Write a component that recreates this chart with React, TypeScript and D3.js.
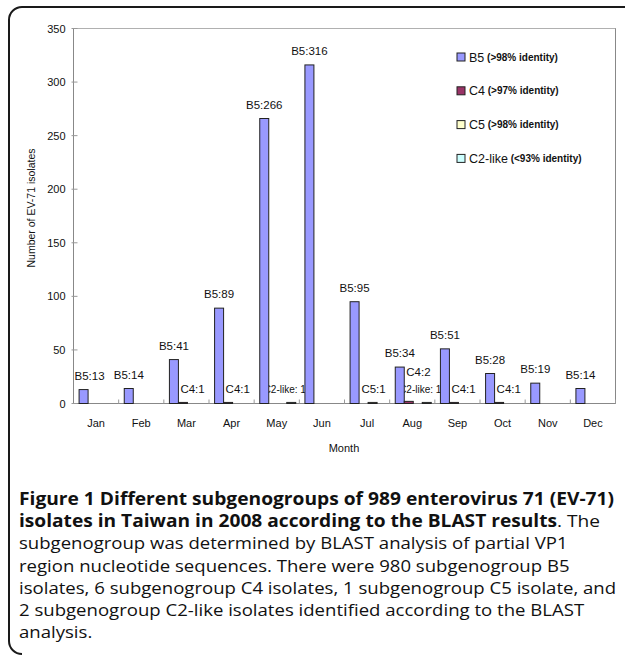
import * as d3 from "d3";

const months = ["Jan", "Feb", "Mar", "Apr", "May", "Jun", "Jul", "Aug", "Sep", "Oct", "Nov", "Dec"];
const seriesNames = ["B5", "C4", "C5", "C2-like"];
const seriesColors = ["#9999ff", "#993366", "#ffffcc", "#ccffff"];
const legendNotes = ["(>98% identity)", "(>97% identity)", "(>98% identity)", "(<93% identity)"];

const b5 = [13, 14, 41, 89, 266, 316, 95, 34, 51, 28, 19, 14];
const c4 = [0, 0, 1, 1, 0, 0, 0, 2, 1, 1, 0, 0];
const c5 = [0, 0, 0, 0, 0, 0, 1, 0, 0, 0, 0, 0];
const c2like = [0, 0, 0, 0, 1, 0, 0, 1, 0, 0, 0, 0];
const seriesValues = [b5, c4, c5, c2like];

const yTicks = [0, 50, 100, 150, 200, 250, 300, 350];

// caption lines; fit = target width for the bold lines (px, before the group scale)
const captionLines: { bold: string; rest: string; fit?: number }[] = [
  { bold: "Figure 1 Different subgenogroups of 989 enterovirus 71 (EV-71)", rest: "", fit: 551 },
  { bold: "isolates in Taiwan in 2008 according to the BLAST results", rest: ". The", fit: 538 },
  { bold: "", rest: "subgenogroup was determined by BLAST analysis of partial VP1" },
  { bold: "", rest: "region nucleotide sequences. There were 980 subgenogroup B5" },
  { bold: "", rest: "isolates, 6 subgenogroup C4 isolates, 1 subgenogroup C5 isolate, and" },
  { bold: "", rest: "2 subgenogroup C2-like isolates identified according to the BLAST" },
  { bold: "", rest: "analysis." },
];

const W = 625;
const H = 657;
const plot = { left: 73.5, right: 615.5, top: 28.5, bottom: 403.5 };
const font = "'Liberation Sans', Arial, sans-serif";

export default function App() {
  const x = d3.scaleBand<string>().domain(months).range([plot.left, plot.right]);
  const x1 = d3.scaleBand<string>().domain(seriesNames).range([0, 36]);
  const y = d3.scaleLinear().domain([0, 350]).range([plot.bottom, plot.top]);
  const step = x.bandwidth();
  const barW = x1.bandwidth();
  const barX = (mi: number, si: number) =>
    (x(months[mi]) as number) + step / 2 - 17 + (x1(seriesNames[si]) as number);

  // labels: one per non-zero value
  const labels: { text: string; tx: number; ty: number; anchor: string; size: number }[] = [];
  months.forEach((m, mi) => {
    const small = seriesNames
      .map((s, si) => ({ s, si, v: seriesValues[si][mi] }))
      .filter((d) => d.si > 0 && d.v > 0);
    const v5 = b5[mi];
    const cx = barX(mi, 0) + barW / 2;
    labels.push({
      text: `B5:${v5}`,
      tx: Math.max(cx, plot.left + 16),
      ty: y(v5) - 10,
      anchor: "middle",
      size: 11.5,
    });
    small.forEach((d, k) => {
      const bx = barX(mi, d.si);
      const raised = small.length > 1 && k === 0;
      const text = d.s === "C2-like" ? `${d.s}: ${d.v}` : `${d.s}:${d.v}`;
      labels.push({
        text,
        tx: d.s === "C4" ? bx + 2 : d.s === "C5" ? bx + barW / 2 + 1 : bx - 2,
        ty: raised ? y(d.v) - 25 : y(d.v) - 9,
        anchor: d.s === "C4" ? "start" : "middle",
        size: d.s === "C2-like" ? 10 : 11.5,
      });
    });
  });

  return (
    <svg
      width={W}
      height={H}
      style={{ position: "absolute", left: 0, top: 0, background: "#fff" }}
      fontFamily={font}
    >
      {/* outer figure frame */}
      <path
        d={`M${W} 7 H22 A13 13 0 0 0 9 20 V641 A13 13 0 0 0 22 654`}
        fill="none"
        stroke="#1a1a1a"
        strokeWidth={2}
      />

      {/* plot area */}
      <rect
        x={plot.left}
        y={plot.top}
        width={plot.right - plot.left}
        height={plot.bottom - plot.top}
        fill="#fff"
        stroke="#b0b0b0"
      />
      <line x1={plot.left} x2={plot.left} y1={plot.top} y2={plot.bottom} stroke="#888" />
      <line x1={plot.left} x2={plot.right} y1={plot.bottom} y2={plot.bottom} stroke="#888" />
      <line x1={plot.right} x2={plot.right} y1={plot.top} y2={plot.bottom} stroke="#888" />

      {/* y axis */}
      {yTicks.map((t) => (
        <g key={t}>
          <line x1={plot.left - 2} x2={plot.left + 4} y1={y(t)} y2={y(t)} stroke="#999" />
          <text x={plot.left - 8} y={y(t) + 4} textAnchor="end" fontSize={11} fill="#111">
            {t}
          </text>
        </g>
      ))}
      <text
        transform={`translate(35,${(plot.top + plot.bottom) / 2 - 8}) rotate(-90)`}
        textAnchor="middle"
        fontSize={10.5}
        fill="#111"
      >
        Number of EV-71 isolates
      </text>

      {/* x axis */}
      {months.map((m) => (
        <g key={m}>
          <line
            x1={(x(m) as number) + step}
            x2={(x(m) as number) + step}
            y1={plot.bottom - 4}
            y2={plot.bottom}
            stroke="#999"
          />
          <text
            x={(x(m) as number) + step / 2}
            y={427}
            textAnchor="middle"
            fontSize={11}
            fill="#111"
          >
            {m}
          </text>
        </g>
      ))}
      <text x={344} y={452} textAnchor="middle" fontSize={11} fill="#111">
        Month
      </text>

      {/* data labels (drawn under bars) */}
      {labels.map((l, i) => (
        <text key={i} x={l.tx} y={l.ty} textAnchor={l.anchor} fontSize={l.size} fill="#111">
          {l.text}
        </text>
      ))}

      {/* bars */}
      {seriesNames.map((s, si) =>
        seriesValues[si].map((v, mi) =>
          v > 0 ? (
            <rect
              key={`${s}-${mi}`}
              x={barX(mi, si)}
              y={y(v)}
              width={barW}
              height={y(0) - y(v)}
              fill={seriesColors[si]}
              stroke="#222"
              strokeWidth={1}
            />
          ) : null
        )
      )}

      {/* legend */}
      {seriesNames.map((s, si) => {
        const ly = 57 + si * 33.8;
        return (
          <g key={s}>
            <rect x={457} y={ly - 4} width={8} height={8} fill={seriesColors[si]} stroke="#222" />
            <text x={469} y={ly + 4.5} fontSize={12.5} fill="#111">
              {s}
              <tspan fontSize={10} fontWeight="bold" dy={-1}>
                {" "}
                {legendNotes[si]}
              </tspan>
            </text>
          </g>
        );
      })}

      {/* caption */}
      <g transform="translate(19,0) scale(1.08,1) translate(-19,0)">
        {captionLines.map((ln, i) => (
          <text
            key={i}
            x={19}
            y={505 + i * 22.2}
            fontSize={17.2}
            fontFamily="'Open Sans', 'Noto Sans', sans-serif"
            fill="#111"
            textLength={ln.fit}
            lengthAdjust={ln.fit ? "spacingAndGlyphs" : undefined}
          >
            {ln.bold ? <tspan fontWeight="bold">{ln.bold}</tspan> : null}
            {ln.rest ? <tspan>{ln.rest}</tspan> : null}
          </text>
        ))}
      </g>
    </svg>
  );
}
